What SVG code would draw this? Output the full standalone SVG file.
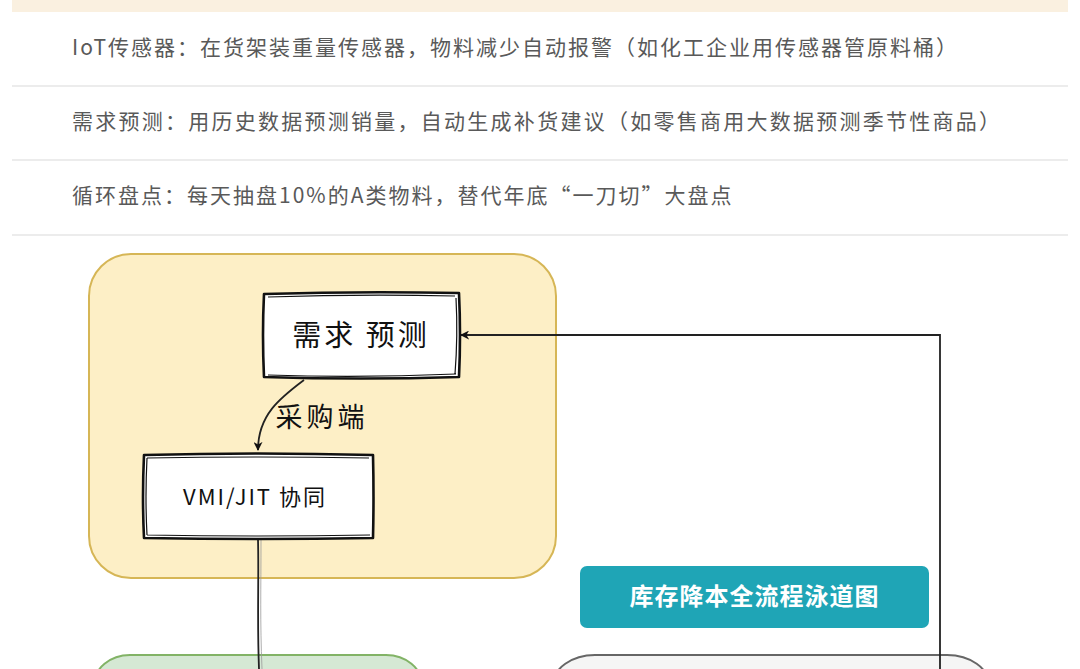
<svg xmlns="http://www.w3.org/2000/svg" width="1080" height="669" viewBox="0 0 1080 669">
<style>
.row{font-family:"Noto Sans CJK SC","Noto Sans",sans-serif;font-size:21px;fill:#595959;letter-spacing:2px}
.sep{stroke:#e6e6e6;stroke-width:1.5}
.hand{font-family:"Noto Sans CJK SC",sans-serif;fill:#111;font-weight:400}
.box{fill:#fff;stroke:#111;stroke-width:2.6;stroke-linejoin:round}
.box2{fill:none;stroke:#111;stroke-width:1.2}
.conn{fill:none;stroke:#222;stroke-width:1.8}
</style>
<defs>
<marker id="arr" viewBox="0 0 10 10" refX="9" refY="5" markerWidth="9" markerHeight="9" markerUnits="userSpaceOnUse" orient="auto">
<path d="M0,0 L10,5 L0,10 L3,5 Z" fill="#111"/>
</marker>
</defs>
<rect x="0" y="0" width="1080" height="669" fill="#fff"/>
<rect x="12" y="0" width="1056" height="12" fill="#faf0e0"/>
<g id="table">
<text class="row" x="72" y="55">IoT传感器：在货架装重量传感器，物料减少自动报警（如化工企业用传感器管原料桶）</text>
<line class="sep" x1="12" y1="86" x2="1068" y2="86"/>
<text class="row" x="72" y="129" textLength="930" lengthAdjust="spacing">需求预测：用历史数据预测销量，自动生成补货建议（如零售商用大数据预测季节性商品）</text>
<line class="sep" x1="12" y1="160" x2="1068" y2="160"/>
<text class="row" x="72" y="203">循环盘点：每天抽盘10%的A类物料，替代年底“一刀切”大盘点</text>
<line class="sep" x1="12" y1="235" x2="1068" y2="235"/>
</g>
<g id="lane-yellow">
<rect x="89" y="254" width="467" height="324" rx="42" fill="#fdefc6" stroke="#d6b656" stroke-width="2"/>
</g>
<g id="lane-green">
<rect x="94" y="655" width="328" height="60" rx="36" fill="#d5e8d4" stroke="#82b366" stroke-width="2"/>
</g>
<g id="lane-gray">
<rect x="553" y="655" width="436" height="60" rx="42" fill="#f5f5f5" stroke="#666" stroke-width="2"/>
</g>
<g id="connectors">
<path class="conn" d="M940,669 L940,335 L461,335" marker-end="url(#arr)"/>
<path class="conn" d="M304,380 C280,398 258,415 258,450" marker-end="url(#arr)"/>
<path class="conn" d="M258,539 C259,580 257,620 259,669"/>
<path fill="none" stroke="#999" stroke-width="0.8" d="M261,540 C261,590 260,620 262,669"/>
<text class="hand" x="322" y="427" font-size="27" text-anchor="middle" letter-spacing="4">采购端</text>
</g>
<g id="node-forecast">
<path class="box" d="M264,294 Q360,291 459,293 Q461,335 459,377 Q360,380 264,377 Q262,335 264,294 Z"/>
<path class="box2" d="M268,297 Q360,294 455,296 M456,298 Q458,336 455,374 M268,375 Q360,378 456,374"/>
<text class="hand" x="361" y="346" font-size="29" text-anchor="middle" letter-spacing="3">需求 预测</text>
</g>
<g id="node-vmi">
<path class="box" d="M144,455 Q258,452 373,455 Q374,497 373,538 Q258,540 144,538 Q142,497 144,455 Z"/>
<path class="box2" d="M147,458 Q258,456 369,458 M147,535 Q258,537 370,535 M147,458 Q145,497 147,535"/>
<text class="hand" x="255" y="505" font-size="22" text-anchor="middle" letter-spacing="2">VMI/JIT 协同</text>
</g>
<g id="title">
<rect x="580" y="566" width="349" height="62" rx="7" fill="#1fa5b6"/>
<text x="754.5" y="605" font-family="Noto Sans CJK SC,sans-serif" font-size="24" font-weight="700" fill="#fff" text-anchor="middle" letter-spacing="1">库存降本全流程泳道图</text>
</g>
</svg>
